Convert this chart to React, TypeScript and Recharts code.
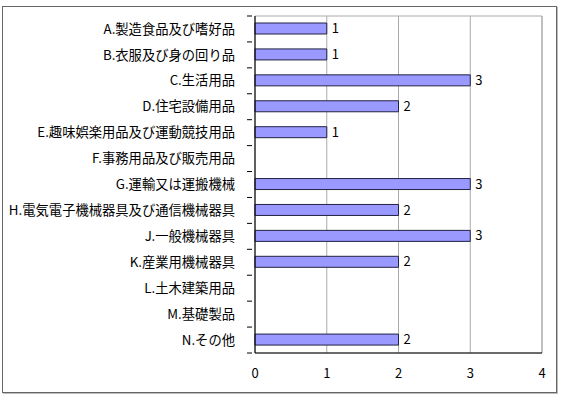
import React from 'react';
import { BarChart, Bar, XAxis, YAxis, CartesianGrid, LabelList, ReferenceArea } from 'recharts';

const categories = [
  'A.製造食品及び嗜好品',
  'B.衣服及び身の回り品',
  'C.生活用品',
  'D.住宅設備用品',
  'E.趣味娯楽用品及び運動競技用品',
  'F.事務用品及び販売用品',
  'G.運輸又は運搬機械',
  'H.電気電子機械器具及び通信機械器具',
  'J.一般機械器具',
  'K.産業用機械器具',
  'L.土木建築用品',
  'M.基礎製品',
  'N.その他',
];
const counts: (number | null)[] = [1, 1, 3, 2, 1, null, 3, 2, 3, 2, null, null, 2];
const xTicks = [0, 1, 2, 3, 4];

const data = categories.map((name, i) => ({ name, value: counts[i] }));

const FONT = '"Noto Sans CJK JP", "Noto Sans", sans-serif';

// category label plus a short tick at the band boundary, pointing into the plot
const CategoryTick = (props: any) => {
  const { x, y, payload, index } = props;
  const half = payload && payload.offset ? payload.offset : 13;
  return (
    <g>
      <text x={x - 12} y={y} dy="0.35em" textAnchor="end" fontSize={13.3} fill="#000" fontFamily={FONT}>
        {payload.value}
      </text>
      <line x1={x} x2={x + 5} y1={y - half} y2={y - half} stroke="#000" />
      {index === categories.length - 1 && (
        <line x1={x} x2={x + 5} y1={y + half} y2={y + half} stroke="#000" />
      )}
    </g>
  );
};

export default function App() {
  return (
    <div style={{ position: 'absolute', left: 0, top: 0, width: 561, height: 395, background: '#fff' }}>
      <div
        style={{
          position: 'absolute',
          left: 2,
          top: 6,
          width: 553,
          height: 385,
          border: '1px solid #666',
          boxShadow: '1px 1px 0 #bbb',
        }}
      />
      <div style={{ position: 'absolute', left: 0, top: 0 }}>
        <BarChart
          width={561}
          height={395}
          data={data}
          layout="vertical"
          margin={{ top: 16, right: 19, bottom: 0, left: 0 }}
          barSize={11}
        >
          <CartesianGrid horizontal={false} stroke="#aaa" />
          <ReferenceArea x1={0} x2={4} fill="none" stroke="#aaa" ifOverflow="extendDomain" />
          <XAxis
            type="number"
            domain={[0, 4]}
            ticks={xTicks}
            height={42}
            tickLine={false}
            tickMargin={10}
            axisLine={{ stroke: '#000' }}
            tick={{ fontSize: 13, fill: '#000', fontFamily: FONT }}
          />
          <YAxis
            type="category"
            dataKey="name"
            width={255}
            tickLine={false}
            axisLine={{ stroke: '#000' }}
            interval={0}
            tick={<CategoryTick />}
          />
          <Bar dataKey="value" fill="#9999ff" stroke="#222244" strokeWidth={1} isAnimationActive={false}>
            <LabelList dataKey="value" position="right" offset={5} fontSize={13} fill="#000" fontFamily={FONT} />
          </Bar>
        </BarChart>
      </div>
    </div>
  );
}
